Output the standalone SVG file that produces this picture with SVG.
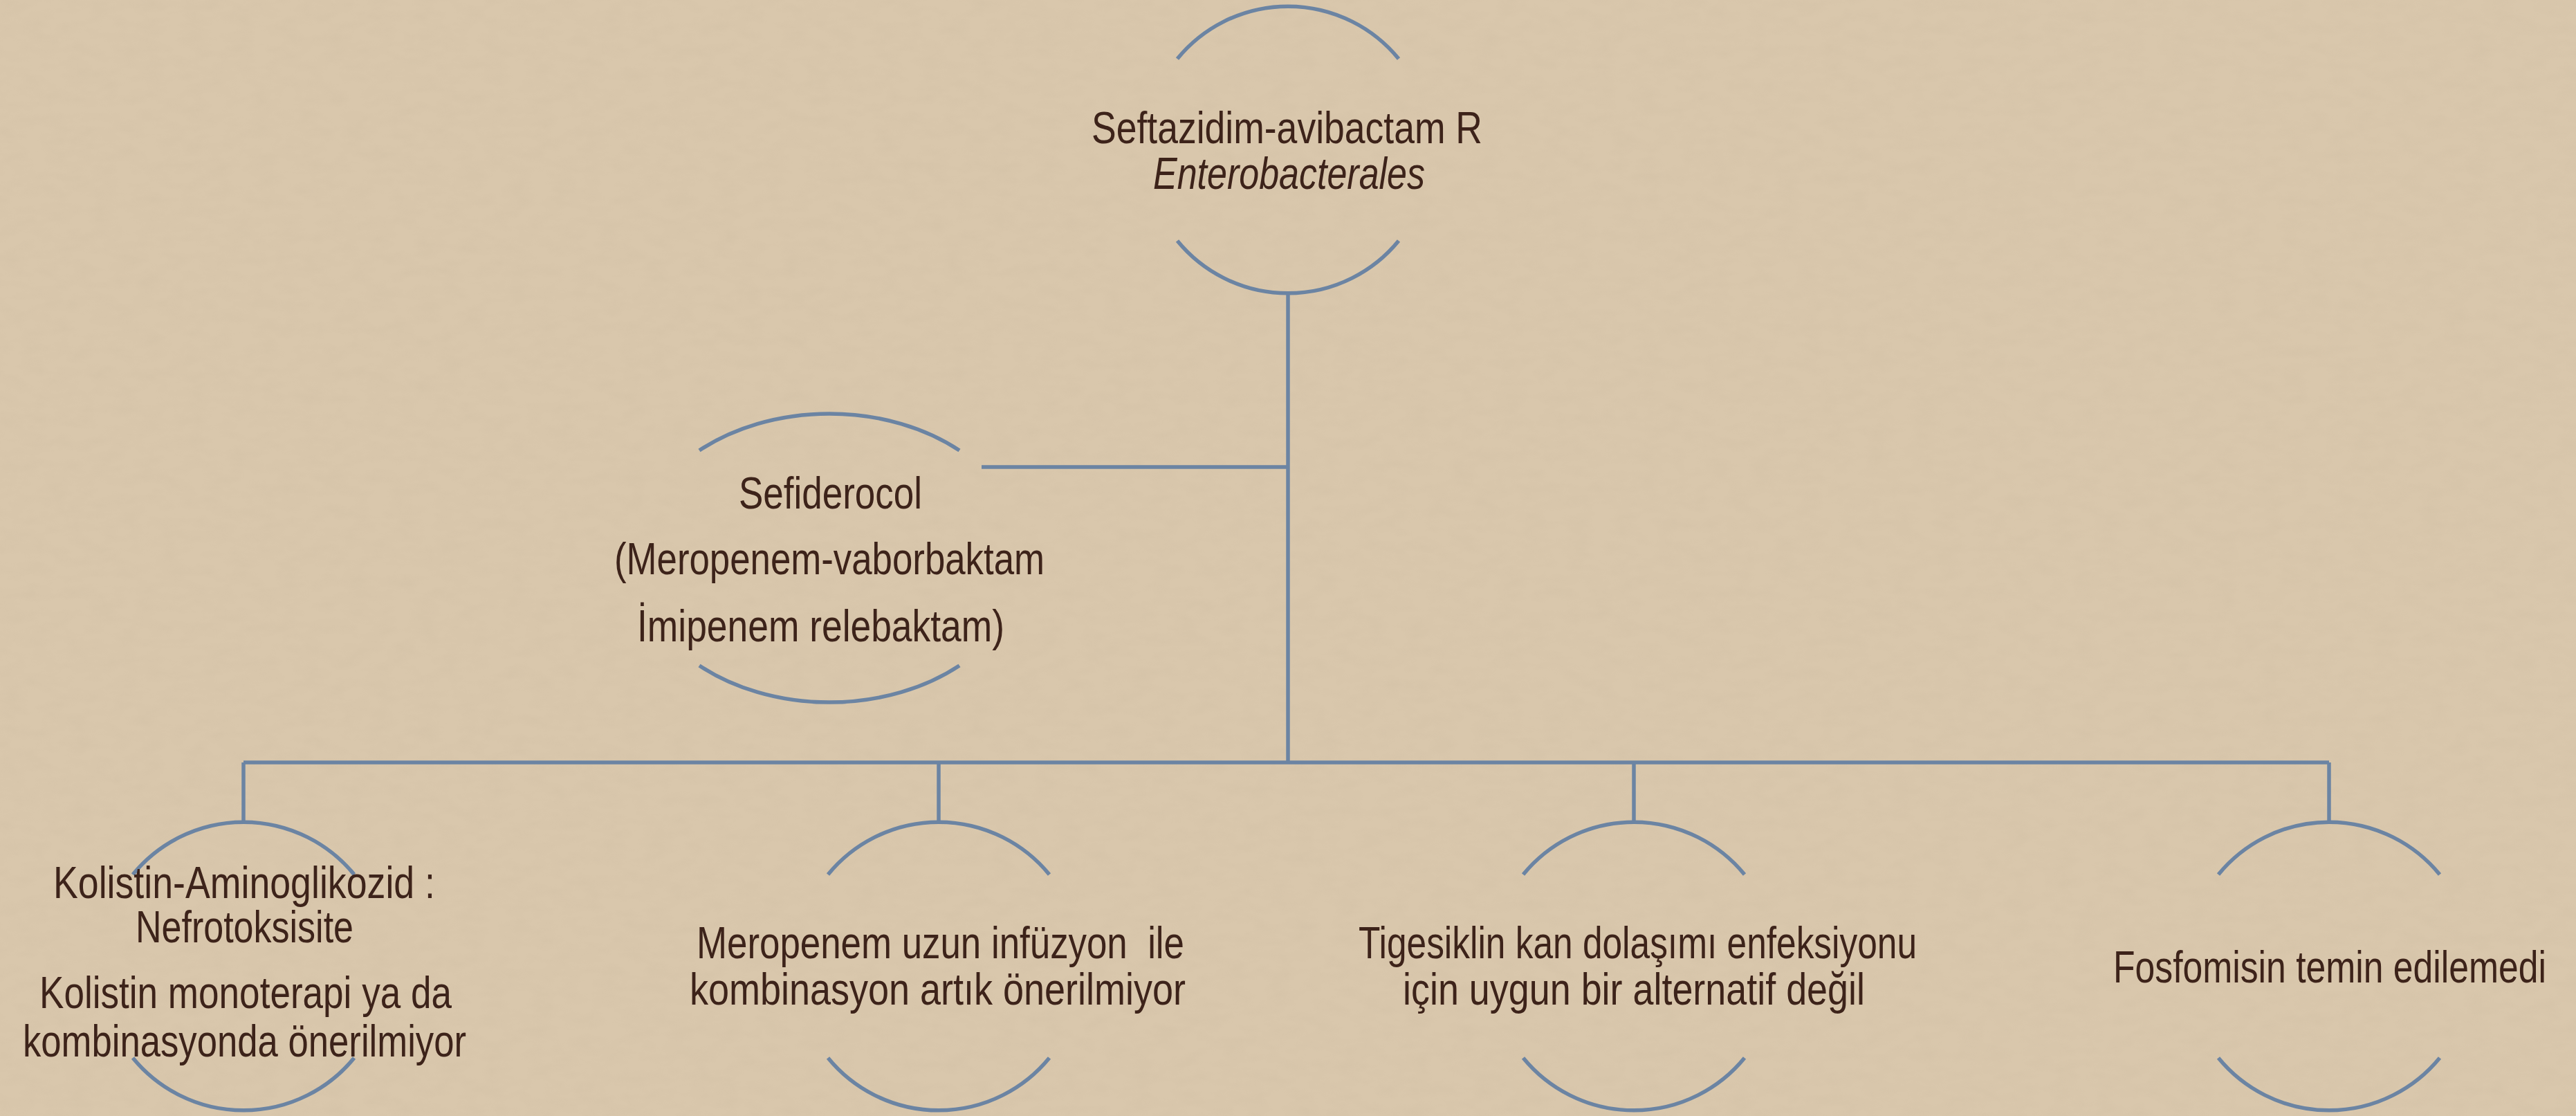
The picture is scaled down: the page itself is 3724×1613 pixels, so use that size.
<svg xmlns="http://www.w3.org/2000/svg" width="3724" height="1613" viewBox="0 0 3724 1613">
<defs>
<filter id="tex" x="0" y="0" width="100%" height="100%">
<feTurbulence type="fractalNoise" baseFrequency="0.03 0.06" numOctaves="3" seed="4" result="n"/>
<feColorMatrix in="n" type="matrix" values="0 0 0 0 0.55  0 0 0 0 0.45  0 0 0 0 0.32  0 0 0 -1.6 1.0"/>
</filter>
</defs>
<style>
.arc{fill:none;stroke:#6b84a3;stroke-width:5.5}
.con{fill:none;stroke:#6b84a3;stroke-width:5.5}
.t{font-family:"Liberation Sans","DejaVu Sans",sans-serif;font-size:64px;fill:#3d231a}
.i{font-style:italic}
</style>
<rect width="3724" height="1613" fill="#d9c7ac"/>
<rect width="3724" height="1613" filter="url(#tex)" opacity="0.16"/>
<g id="connectors">
<path class="con" d="M1862,424 V1102"/>
<path class="con" d="M1419,675 H1862"/>
<path class="con" d="M352,1102 H3367"/>
<path class="con" d="M352,1102 V1189"/>
<path class="con" d="M1357,1102 V1189"/>
<path class="con" d="M2362,1102 V1189"/>
<path class="con" d="M3367,1102 V1189"/>
</g>
<g id="node-root">
<path class="arc" d="M1702,85 A207,207.5 0 0 1 2022,85"/>
<path class="arc" d="M1702,348 A207,207.5 0 0 0 2022,348"/>
<text class="t" x="1578" y="207" textLength="565" lengthAdjust="spacingAndGlyphs">Seftazidim-avibactam R</text>
<text class="t i" x="1667" y="273" textLength="393" lengthAdjust="spacingAndGlyphs">Enterobacterales</text>
</g>
<g id="node-sefiderocol">
<path class="arc" d="M1011,651 A282,208.5 0 0 1 1387,651"/>
<path class="arc" d="M1011,962 A282,208.5 0 0 0 1387,962"/>
<text class="t" x="1068" y="735" textLength="265" lengthAdjust="spacingAndGlyphs">Sefiderocol</text>
<text class="t" x="888" y="830" textLength="622" lengthAdjust="spacingAndGlyphs">(Meropenem-vaborbaktam</text>
<text class="t" x="921" y="927" textLength="531" lengthAdjust="spacingAndGlyphs">İmipenem relebaktam)</text>
</g>
<g id="node-kolistin">
<path class="arc" d="M192,1264 A207,207.5 0 0 1 512,1264"/>
<path class="arc" d="M192,1529 A207,207.5 0 0 0 512,1529"/>
<text class="t" x="77" y="1298" textLength="552" lengthAdjust="spacingAndGlyphs">Kolistin-Aminoglikozid :</text>
<text class="t" x="196" y="1362" textLength="315" lengthAdjust="spacingAndGlyphs">Nefrotoksisite</text>
<text class="t" x="57" y="1457" textLength="596" lengthAdjust="spacingAndGlyphs">Kolistin monoterapi ya da</text>
<text class="t" x="33" y="1527" textLength="641" lengthAdjust="spacingAndGlyphs">kombinasyonda önerilmiyor</text>
</g>
<g id="node-meropenem">
<path class="arc" d="M1197,1264 A207,207.5 0 0 1 1517,1264"/>
<path class="arc" d="M1197,1529 A207,207.5 0 0 0 1517,1529"/>
<text class="t" x="1007" y="1385" textLength="705" lengthAdjust="spacingAndGlyphs" xml:space="preserve">Meropenem uzun infüzyon  ile</text>
<text class="t" x="997" y="1452" textLength="717" lengthAdjust="spacingAndGlyphs">kombinasyon artık önerilmiyor</text>
</g>
<g id="node-tigesiklin">
<path class="arc" d="M2202,1264 A207,207.5 0 0 1 2522,1264"/>
<path class="arc" d="M2202,1529 A207,207.5 0 0 0 2522,1529"/>
<text class="t" x="1964" y="1385" textLength="807" lengthAdjust="spacingAndGlyphs">Tigesiklin kan dolaşımı enfeksiyonu</text>
<text class="t" x="2028" y="1452" textLength="668" lengthAdjust="spacingAndGlyphs">için uygun bir alternatif değil</text>
</g>
<g id="node-fosfomisin">
<path class="arc" d="M3207,1264 A207,207.5 0 0 1 3527,1264"/>
<path class="arc" d="M3207,1529 A207,207.5 0 0 0 3527,1529"/>
<text class="t" x="3681" y="1420" text-anchor="end" textLength="626" lengthAdjust="spacingAndGlyphs">Fosfomisin temin edilemedi</text>
</g>
</svg>
